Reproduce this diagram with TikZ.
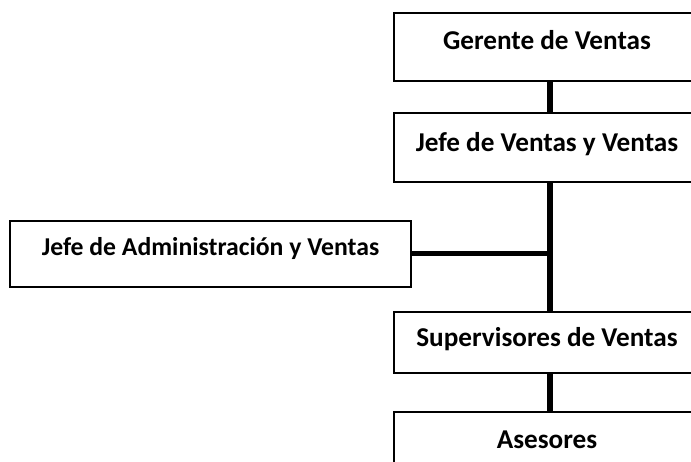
\documentclass[tikz,border=0pt]{standalone}
\usepackage{fontspec}
\setmainfont{Carlito}
\begin{document}
\begin{tikzpicture}[x=1pt,y=-1pt,
  box/.style={draw=black, line width=2pt, fill=white, minimum width=306pt, inner sep=0pt,
    font=\bfseries\fontsize{27.2}{31}\selectfont, text depth=6pt},
  adminbox/.style={box, minimum width=401pt, font=\bfseries\fontsize{25.7}{30}\selectfont},
  conn/.style={line width=5.5pt, draw=black}]
\clip (0,0) rectangle (691,461);
\fill[white] (0,0) rectangle (691,461);
\coordinate (sp) at (550,0);
\node[box, minimum height=68pt, text height=11.2pt] (g) at (547,46.7) {Gerente de Ventas};
\node[box, minimum height=68.4pt, text height=14.4pt] (j) at (547,147.5) {Jefe de Ventas y Ventas};
\node[adminbox, minimum height=66pt, text height=8.6pt] (a) at (210.5,253.7) {Jefe de Administración y Ventas};
\node[box, minimum height=61pt, text height=15pt] (s) at (547,342.2) {Supervisores de Ventas};
\node[box, minimum height=68pt, text height=11.2pt] (as) at (547,445.7) {Asesores};
\draw[conn] (g.south -| sp) -- (j.north -| sp);
\draw[conn] (j.south -| sp) -- (s.north -| sp);
\draw[conn] (s.south -| sp) -- (as.north -| sp);
\draw[conn] (a.east) -- (a.east -| sp);
\end{tikzpicture}
\end{document}
